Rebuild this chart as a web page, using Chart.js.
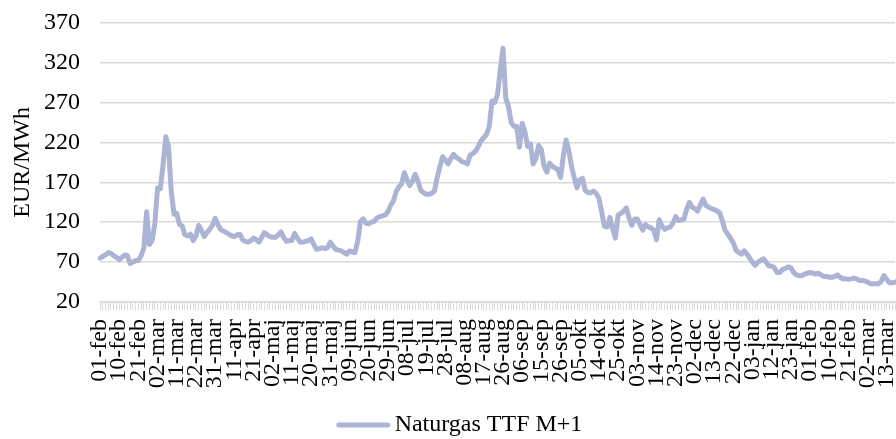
<!DOCTYPE html>
<html><head><meta charset="utf-8">
<script src="https://cdn.jsdelivr.net/npm/chart.js@4.4.0/dist/chart.umd.min.js"></script>
<style>html,body{margin:0;padding:0;background:#fff;} #c{display:block;}</style>
</head><body>
<canvas id="c" width="896" height="439"></canvas>
<script>
const seriesName = 'Naturgas TTF M+1';
const yTicks = [20, 70, 120, 170, 220, 270, 320, 370];
const prices = [
  75, 77, 79, 82, 81, 78, 76, 73, 76, 79,
  78, 68, 70, 72, 72, 78, 88, 133, 92, 97,
  118, 163, 162, 192, 227, 215, 158, 130, 131, 117,
  115, 104, 103, 105, 97, 103, 116, 110, 102, 107,
  111, 116, 125, 117, 111, 109, 107, 105, 103, 102,
  104, 105, 98, 96, 95, 97, 100, 98, 95, 101,
  107, 104, 102, 101, 101, 104, 108, 101, 96, 97,
  97, 106, 100, 95, 95, 96, 97, 99, 92, 86,
  87, 88, 87, 88, 95, 90, 86, 85, 84, 82,
  80, 84, 83, 82, 96, 121, 124, 119, 118, 120,
  121, 125, 127, 128, 129, 133, 141, 146, 158, 164,
  168, 182, 173, 166, 172, 180, 171, 160, 157, 155,
  155, 156, 159, 176, 190, 202, 198, 193, 200, 205,
  201, 199, 196, 195, 193, 204, 206, 209, 215, 222,
  226, 230, 240, 272, 270, 280, 310, 338, 276, 265,
  245, 240, 240, 214, 244, 233, 215, 218, 193, 200,
  216, 211, 190, 183, 194, 190, 188, 186, 176, 203,
  223, 210, 190, 176, 163, 173, 175, 160, 157, 157,
  159, 156, 150, 133, 115, 114, 126, 112, 100, 129,
  131, 134, 138, 125, 116, 124, 124, 117, 110, 117,
  114, 113, 110, 98, 123, 115, 111, 113, 114, 119,
  127, 122, 123, 124, 136, 145, 139, 137, 134, 142,
  149, 141, 139, 137, 136, 134, 132, 122, 110, 105,
  100, 94, 85, 82, 80, 84, 80, 75, 70, 66,
  70, 72, 74, 70, 65, 65, 63, 57, 57, 61,
  62, 64, 63, 57, 54, 53, 53, 55, 56, 57,
  56, 55, 56, 54, 52, 52, 51, 51, 52, 54,
  51, 49, 49, 48.5, 49, 50, 49, 47, 47, 46.5,
  45, 43, 43, 43, 43, 46, 53, 48, 44, 44,
  45
];
const monthNames = ['jan', 'feb', 'mar', 'apr', 'maj', 'jun', 'jul', 'aug', 'sep', 'okt', 'nov', 'dec'];
const holidays = ['2022-04-15', '2022-12-26'];
const categories = [];
(function () {
  const d = new Date(Date.UTC(2022, 1, 1));
  while (categories.length < prices.length) {
    const dow = d.getUTCDay();
    const iso = d.toISOString().slice(0, 10);
    if (dow !== 0 && dow !== 6 && !holidays.includes(iso)) {
      categories.push(String(d.getUTCDate()).padStart(2, '0') + '-' + monthNames[d.getUTCMonth()]);
    }
    d.setUTCDate(d.getUTCDate() + 1);
  }
})();
const labelEvery = 7;

const FONT = 'Liberation Serif';
const lineColor = '#abb4d4';

// legend swatch: a short thick line, placed at the right of a wider transparent image
const swatch = document.createElement('canvas');
swatch.width = 78; swatch.height = 8;
(function () {
  const g = swatch.getContext('2d');
  g.strokeStyle = lineColor; g.lineWidth = 5; g.lineCap = 'round';
  g.beginPath(); g.moveTo(26, 4); g.lineTo(75, 4); g.stroke();
})();

new Chart(document.getElementById('c'), {
  type: 'line',
  data: {
    labels: categories,
    datasets: [{
      label: seriesName,
      data: prices,
      borderColor: lineColor,
      backgroundColor: lineColor,
      borderWidth: 5,
      pointRadius: 0,
      tension: 0,
      borderJoinStyle: 'round',
      borderCapStyle: 'round',
      fill: false
    }]
  },
  options: {
    responsive: false,
    animation: false,
    devicePixelRatio: 1,
    layout: { padding: { left: 8, right: 1, top: 0, bottom: -8 } },
    plugins: {
      legend: {
        position: 'bottom',
        labels: {
          usePointStyle: true,
          pointStyle: swatch,
          pointStyleWidth: 62,
          padding: 2,
          color: '#000',
          font: { family: FONT, size: 24 }
        }
      },
      tooltip: { enabled: false }
    },
    scales: {
      x: {
        type: 'category',
        offset: false,
        grid: { drawOnChartArea: false, drawTicks: true, tickLength: 8, color: '#d9d9d9', lineWidth: 1 },
        border: { display: true, color: '#d9d9d9', width: 1.5 },
        ticks: {
          autoSkip: false,
          maxRotation: 90,
          minRotation: 90,
          padding: 9,
          color: '#000',
          font: { family: FONT, size: 24 },
          callback: (v, i) => (i % labelEvery === 0 ? categories[i] : '')
        },
        afterFit: (s) => { s.height = 109; s.paddingLeft = 0; s.paddingRight = 0; }
      },
      y: {
        min: yTicks[0],
        max: yTicks[yTicks.length - 1],
        afterBuildTicks: (s) => { s.ticks = yTicks.map(v => ({ value: v })); },
        afterFit: (s) => { s.width = 92; s.paddingTop = 22.7; s.paddingBottom = 0; },
        ticks: { padding: 20, color: '#000', font: { family: FONT, size: 24 } },
        grid: { color: '#d9d9d9', lineWidth: 1.5, drawTicks: false },
        border: { display: false },
        title: {
          display: true,
          text: 'EUR/MWh',
          color: '#000',
          font: { family: FONT, size: 24 },
          padding: { top: 0, bottom: 10 }
        }
      }
    }
  }
});
</script>
</body></html>
